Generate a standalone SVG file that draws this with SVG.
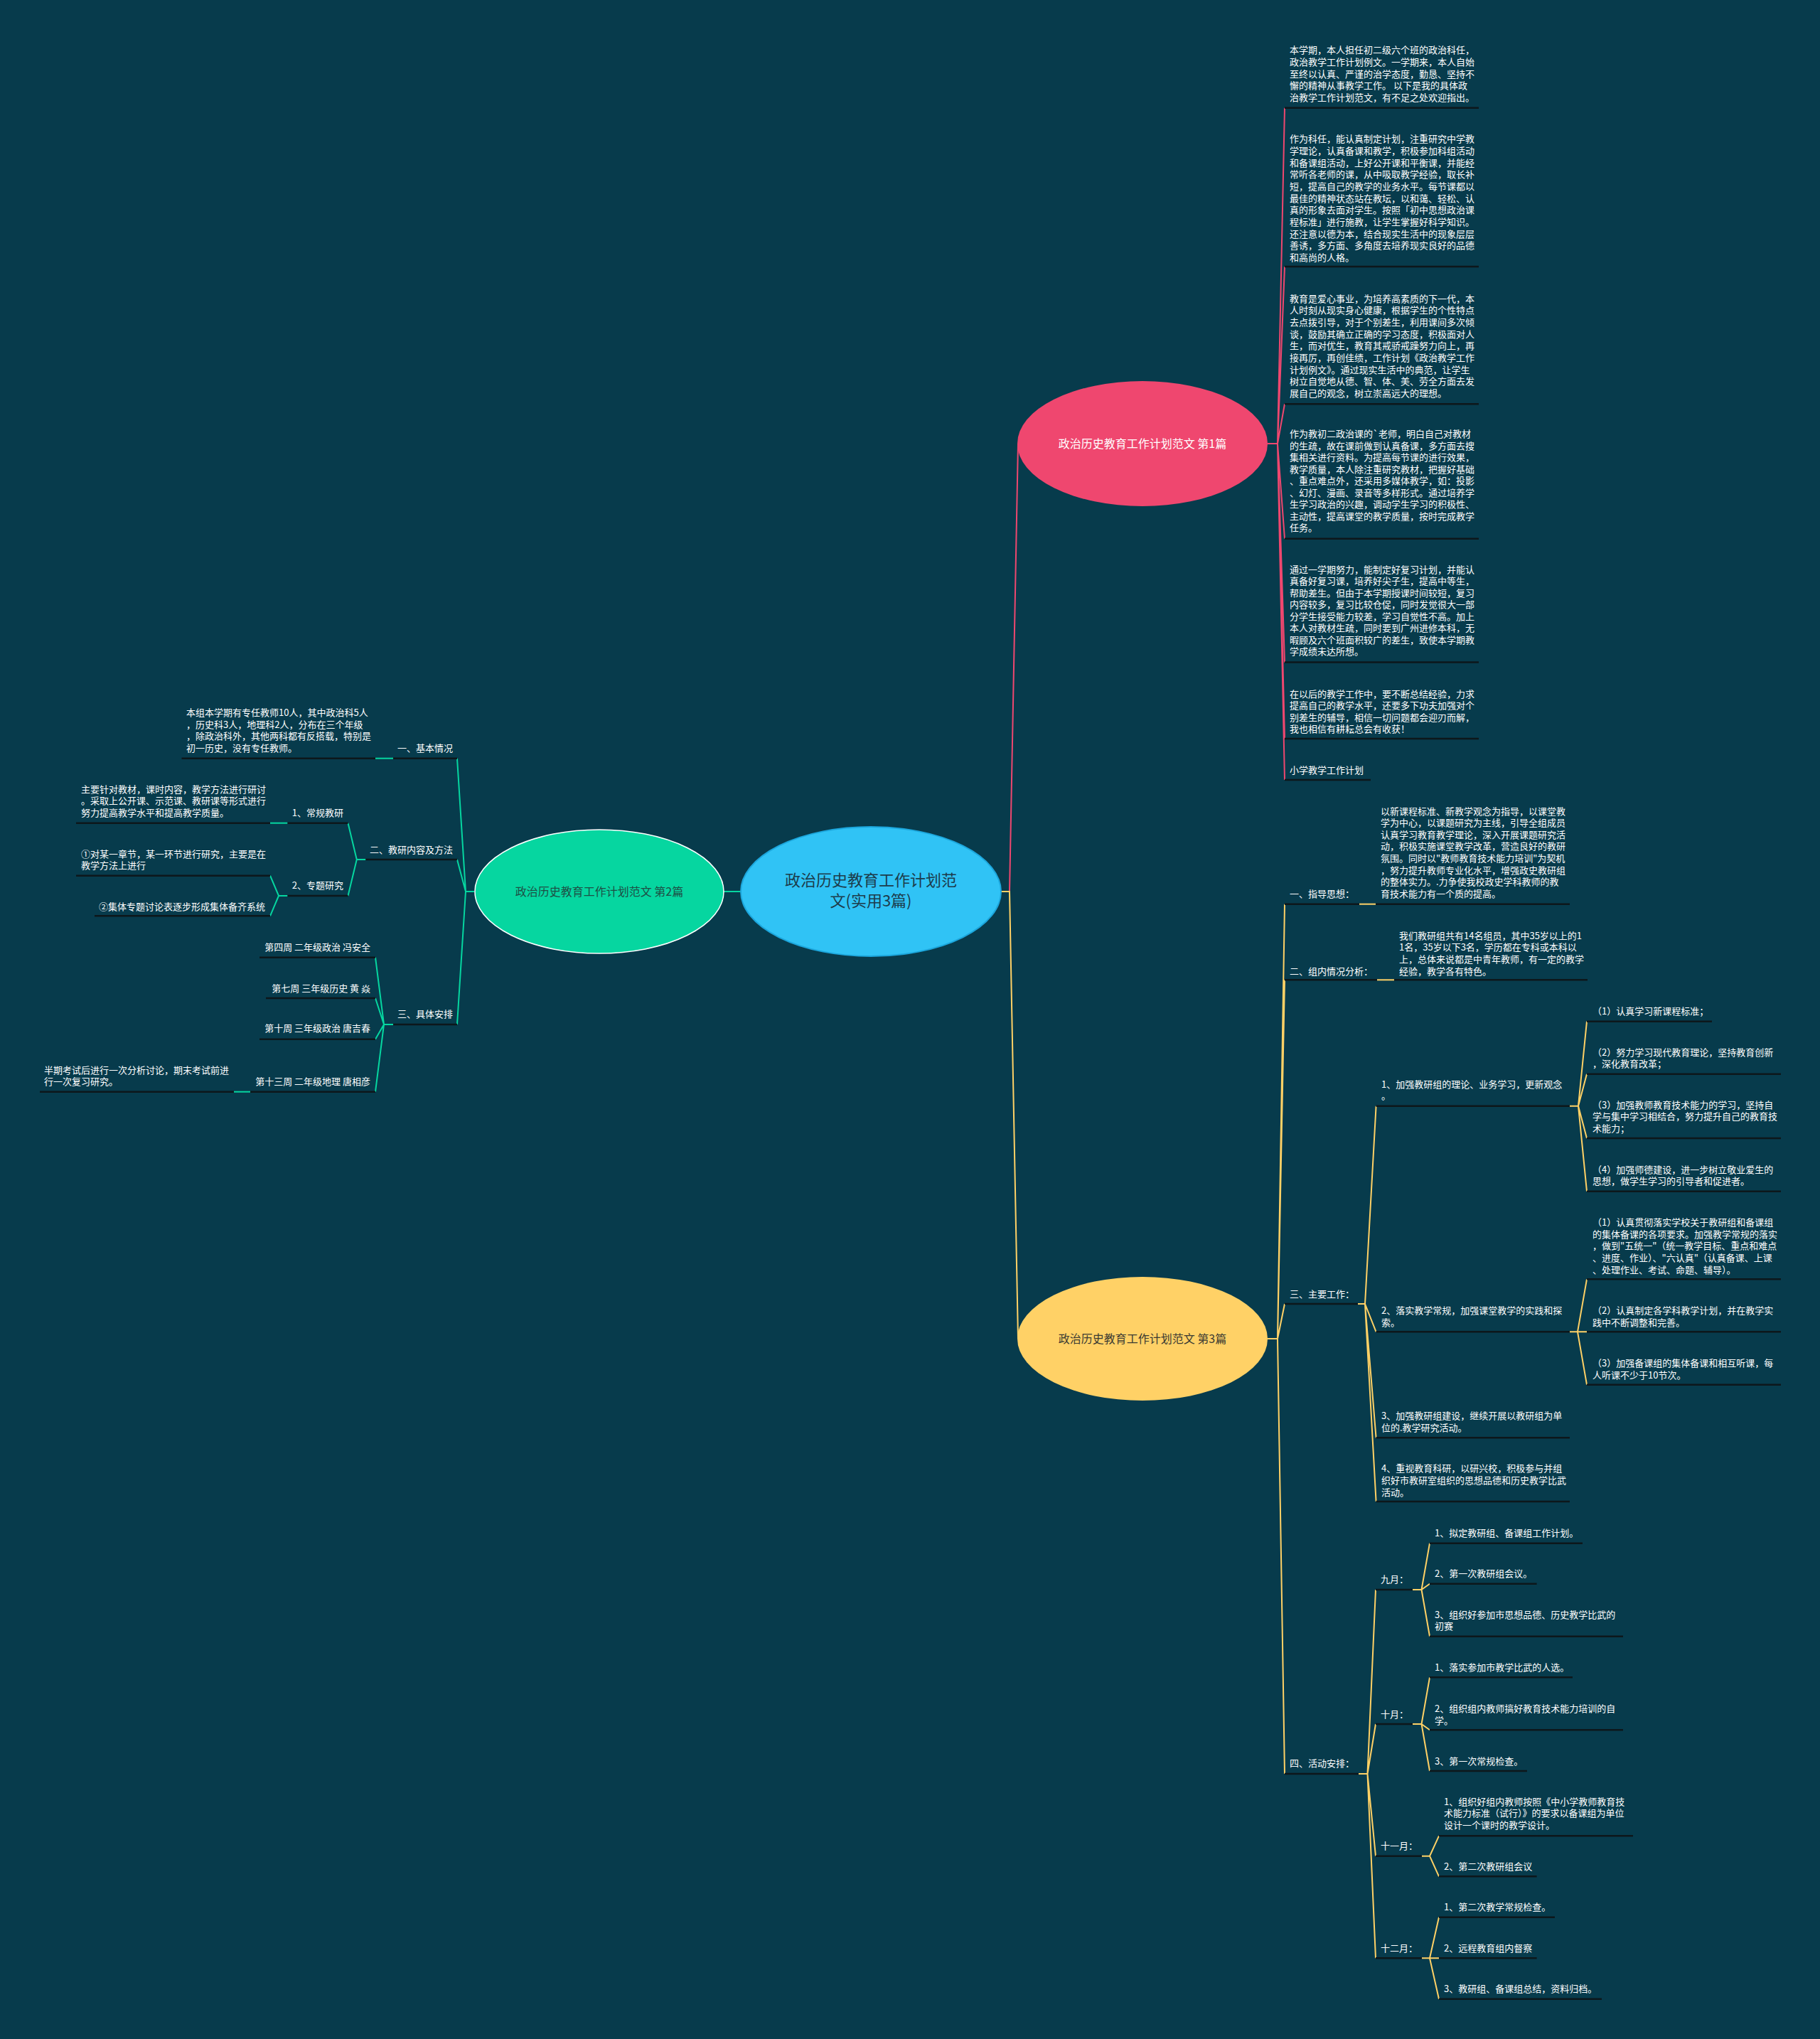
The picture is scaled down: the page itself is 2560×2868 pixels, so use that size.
<svg xmlns="http://www.w3.org/2000/svg" width="2560" height="2868" viewBox="0 0 2560 2868">
<style>
.t{font-family:"Noto Sans CJK SC","Microsoft YaHei",sans-serif;font-size:13px;fill:#ffffff}
.r{text-anchor:end}
.u{stroke:#0d171b;stroke-width:2.5;fill:none}
.cp{stroke:#ef476f;stroke-width:2;fill:none}
.cy{stroke:#ffd166;stroke-width:2;fill:none}
.cg{stroke:#06d6a0;stroke-width:2;fill:none}
.nt{font-family:"Noto Sans CJK SC","Microsoft YaHei",sans-serif;font-size:16px;text-anchor:middle}
</style>
<rect width="2560" height="2868" fill="#073b4c"/>

<g id="connectors">
<path class="cg" d="M1042,1254 L1018,1254"/>
<path class="cp" d="M1408,1254 L1420,1254 L1432,624"/>
<path class="cy" d="M1408,1254 L1420,1254 L1432,1883"/>

<path class="cp" d="M1783,624 L1797,624 L1807,151.7 M1797,624 L1807,375 M1797,624 L1807,568.3 M1797,624 L1807,757.7 M1797,624 L1807,931.6 M1797,624 L1807,1039 M1797,624 L1807,1097"/>

<path class="cy" d="M1783,1883 L1797,1883 L1807,1271.7 M1797,1883 L1807,1378.3 M1797,1883 L1807,1834 M1797,1883 L1807,2495"/>
<path class="cy" d="M1912,1271.7 L1935,1271.7"/>
<path class="cy" d="M1937,1378.3 L1961,1378.3"/>
<path class="cy" d="M1910,1834 L1920,1834 L1935.6,1555.7 M1920,1834 L1935.6,1873.3 M1920,1834 L1935.6,2022.3 M1920,1834 L1935.6,2112"/>
<path class="cy" d="M2208,1555.7 L2220,1555.7 L2232,1436.7 M2220,1555.7 L2232,1510.7 M2220,1555.7 L2232,1601 M2220,1555.7 L2232,1675.7"/>
<path class="cy" d="M2208,1873.3 L2219,1873.3 L2232,1799.3 M2219,1873.3 L2232,1873.3 M2219,1873.3 L2232,1947.7"/>
<path class="cy" d="M1911,2495 L1923.5,2495 L1935,2236 M1923.5,2495 L1935,2425 M1923.5,2495 L1935,2610.7 M1923.5,2495 L1935,2754.3"/>
<path class="cy" d="M1987,2236 L1999.5,2236 L2011,2170.7 M1999.5,2236 L2011,2227.7 M1999.5,2236 L2011,2301.7"/>
<path class="cy" d="M1987,2425 L1999.5,2425 L2011,2359.3 M1999.5,2425 L2011,2433.3 M1999.5,2425 L2011,2491"/>
<path class="cy" d="M2000,2610.7 L2011,2610.7 L2024,2582.3 M2011,2610.7 L2024,2639.3"/>
<path class="cy" d="M2000,2754.3 L2011,2754.3 L2024,2696.7 M2011,2754.3 L2024,2754.3 M2011,2754.3 L2024,2811.7"/>

<path class="cg" d="M667,1254 L655,1254 L643,1066.7 M655,1254 L643,1209 M655,1254 L643,1441"/>
<path class="cg" d="M553,1066.7 L528,1066.7"/>
<path class="cg" d="M514.4,1209 L501.8,1209 L489.5,1157.7 M501.8,1209 L489.5,1260"/>
<path class="cg" d="M404.5,1157.7 L380,1157.7"/>
<path class="cg" d="M404.5,1260 L392,1260 L380,1231.7 M392,1260 L380,1288.3"/>
<path class="cg" d="M553,1441 L540,1441 L528,1346.7 M540,1441 L528,1404 M540,1441 L528,1461.7 M540,1441 L528,1535.7"/>
<path class="cg" d="M352,1535.7 L329,1535.7"/>
</g>

<g id="root">
<ellipse cx="1225" cy="1254" rx="183" ry="91" fill="#30c3f5" stroke="#1ca6dc" stroke-width="2"/>
<text class="nt" style="font-size:22px" fill="#1d3c4b"><tspan x="1225" y="1246">政治历史教育工作计划范</tspan><tspan x="1225" y="1275">文(实用3篇)</tspan></text>
</g>

<g id="node1">
<ellipse cx="1607" cy="624" rx="176" ry="88" fill="#ef476f"/>
<text class="nt" x="1607" y="630" fill="#ffffff">政治历史教育工作计划范文 第1篇</text>
</g>

<g id="node2">
<ellipse cx="843" cy="1254" rx="175" ry="87" fill="#06d6a0" stroke="#ffffff" stroke-width="1.5"/>
<text class="nt" x="843" y="1260" fill="#1e4f45">政治历史教育工作计划范文 第2篇</text>
</g>

<g id="node3">
<ellipse cx="1607" cy="1883" rx="176" ry="87" fill="#ffd166"/>
<text class="nt" x="1607" y="1889" fill="#3a3a32">政治历史教育工作计划范文 第3篇</text>
</g>

<g id="n1c1">
<path class="u" d="M1807,151.7 H2080"/>
<text class="t"><tspan x="1814" y="75.2">本学期，本人担任初二级六个班的政治科任，</tspan><tspan x="1814" y="91.9">政治教学工作计划例文。一学期来，本人自始</tspan><tspan x="1814" y="108.5">至终以认真、严谨的治学态度，勤恳、坚持不</tspan><tspan x="1814" y="125.2">懈的精神从事教学工作。 以下是我的具体政</tspan><tspan x="1814" y="141.9">治教学工作计划范文，有不足之处欢迎指出。</tspan></text>
</g>
<g id="n1c2">
<path class="u" d="M1807,375 H2080"/>
<text class="t"><tspan x="1814" y="200.2">作为科任，能认真制定计划，注重研究中学教</tspan><tspan x="1814" y="216.9">学理论，认真备课和教学，积极参加科组活动</tspan><tspan x="1814" y="233.5">和备课组活动，上好公开课和平衡课，并能经</tspan><tspan x="1814" y="250.2">常听各老师的课，从中吸取教学经验，取长补</tspan><tspan x="1814" y="266.9">短，提高自己的教学的业务水平。每节课都以</tspan><tspan x="1814" y="283.5">最佳的精神状态站在教坛，以和蔼、轻松、认</tspan><tspan x="1814" y="300.2">真的形象去面对学生。按照「初中思想政治课</tspan><tspan x="1814" y="316.9">程标准」进行施教，让学生掌握好科学知识。</tspan><tspan x="1814" y="333.5">还注意以德为本，结合现实生活中的现象层层</tspan><tspan x="1814" y="350.2">善诱，多方面、多角度去培养现实良好的品德</tspan><tspan x="1814" y="366.9">和高尚的人格。</tspan></text>
</g>
<g id="n1c3">
<path class="u" d="M1807,568.3 H2080"/>
<text class="t"><tspan x="1814" y="424.5">教育是爱心事业，为培养高素质的下一代，本</tspan><tspan x="1814" y="441.2">人时刻从现实身心健康，根据学生的个性特点</tspan><tspan x="1814" y="457.8">去点拨引导，对于个别差生，利用课间多次倾</tspan><tspan x="1814" y="474.5">谈，鼓励其确立正确的学习态度，积极面对人</tspan><tspan x="1814" y="491.2">生，而对优生，教育其戒骄戒躁努力向上，再</tspan><tspan x="1814" y="507.8">接再厉，再创佳绩，工作计划《政治教学工作</tspan><tspan x="1814" y="524.5">计划例文》。通过现实生活中的典范，让学生</tspan><tspan x="1814" y="541.2">树立自觉地从德、智、体、美、劳全方面去发</tspan><tspan x="1814" y="557.8">展自己的观念，树立崇高远大的理想。</tspan></text>
</g>
<g id="n1c4">
<path class="u" d="M1807,757.7 H2080"/>
<text class="t"><tspan x="1814" y="615.1">作为教初二政治课的`老师，明白自己对教材</tspan><tspan x="1814" y="631.6">的生疏，故在课前做到认真备课，多方面去搜</tspan><tspan x="1814" y="648.1">集相关进行资料。为提高每节课的进行效果，</tspan><tspan x="1814" y="664.6">教学质量，本人除注重研究教材，把握好基础</tspan><tspan x="1814" y="681.1">、重点难点外，还采用多媒体教学，如：投影</tspan><tspan x="1814" y="697.6">、幻灯、漫画、录音等多样形式。通过培养学</tspan><tspan x="1814" y="714.1">生学习政治的兴趣，调动学生学习的积极性、</tspan><tspan x="1814" y="730.6">主动性，提高课堂的教学质量，按时完成教学</tspan><tspan x="1814" y="747.1">任务。</tspan></text>
</g>
<g id="n1c5">
<path class="u" d="M1807,931.6 H2080"/>
<text class="t"><tspan x="1814" y="805.9">通过一学期努力，能制定好复习计划，并能认</tspan><tspan x="1814" y="822.4">真备好复习课，培养好尖子生，提高中等生，</tspan><tspan x="1814" y="838.9">帮助差生。但由于本学期授课时间较短，复习</tspan><tspan x="1814" y="855.4">内容较多，复习比较仓促，同时发觉很大一部</tspan><tspan x="1814" y="871.9">分学生接受能力较差，学习自觉性不高。加上</tspan><tspan x="1814" y="888.4">本人对教材生疏，同时要到广州进修本科，无</tspan><tspan x="1814" y="904.9">暇顾及六个班面积较广的差生，致使本学期教</tspan><tspan x="1814" y="921.4">学成绩未达所想。</tspan></text>
</g>
<g id="n1c6">
<path class="u" d="M1807,1039 H2080"/>
<text class="t"><tspan x="1814" y="980.8">在以后的教学工作中，要不断总结经验，力求</tspan><tspan x="1814" y="997.3">提高自己的教学水平，还要多下功夫加强对个</tspan><tspan x="1814" y="1013.8">别差生的辅导，相信一切问题都会迎刃而解，</tspan><tspan x="1814" y="1030.3">我也相信有耕耘总会有收获！</tspan></text>
</g>
<g id="n1c7">
<path class="u" d="M1807,1097 H1928"/>
<text class="t" x="1814" y="1087.5">小学教学工作计划</text>
</g>

<g id="n3-zhidao">
<path class="u" d="M1807,1271.7 H1912"/>
<text class="t" x="1814" y="1261.8">一、指导思想：</text>
</g>
<g id="n3-zhidao-text">
<path class="u" d="M1935,1271.7 H2208"/>
<text class="t"><tspan x="1942" y="1145.5">以新课程标准、新教学观念为指导，以课堂教</tspan><tspan x="1942" y="1162.1">学为中心，以课题研究为主线，引导全组成员</tspan><tspan x="1942" y="1178.7">认真学习教育教学理论，深入开展课题研究活</tspan><tspan x="1942" y="1195.3">动，积极实施课堂教学改革，营造良好的教研</tspan><tspan x="1942" y="1211.9">氛围。同时以&quot;教师教育技术能力培训&quot;为契机</tspan><tspan x="1942" y="1228.5">，努力提升教师专业化水平，增强政史教研组</tspan><tspan x="1942" y="1245.1">的整体实力。.力争使我校政史学科教师的教</tspan><tspan x="1942" y="1261.7">育技术能力有一个质的提高。</tspan></text>
</g>
<g id="n3-zunei">
<path class="u" d="M1807,1378.3 H1937"/>
<text class="t" x="1814" y="1370.5">二、组内情况分析：</text>
</g>
<g id="n3-zunei-text">
<path class="u" d="M1961,1378.3 H2233"/>
<text class="t"><tspan x="1968" y="1320.7">我们教研组共有14名组员，其中35岁以上的1</tspan><tspan x="1968" y="1337.3">1名，35岁以下3名，学历都在专科或本科以</tspan><tspan x="1968" y="1353.9">上，总体来说都是中青年教师，有一定的教学</tspan><tspan x="1968" y="1370.5">经验，教学各有特色。</tspan></text>
</g>

<g id="n3-zhuyao">
<path class="u" d="M1807,1834 H1910"/>
<text class="t" x="1814" y="1824.5">三、主要工作：</text>
</g>
<g id="zy-1">
<path class="u" d="M1935.6,1555.7 H2208"/>
<text class="t"><tspan x="1943" y="1529.5">1、加强教研组的理论、业务学习，更新观念</tspan><tspan x="1943" y="1546.1">。</tspan></text>
</g>
<g id="zy-1-1">
<path class="u" d="M2232,1436.7 H2408"/>
<text class="t" x="2240" y="1426.5">（1）认真学习新课程标准；</text>
</g>
<g id="zy-1-2">
<path class="u" d="M2232,1510.7 H2505"/>
<text class="t"><tspan x="2240" y="1484.5">（2）努力学习现代教育理论，坚持教育创新</tspan><tspan x="2240" y="1501.2">，深化教育改革；</tspan></text>
</g>
<g id="zy-1-3">
<path class="u" d="M2232,1601 H2505"/>
<text class="t"><tspan x="2240" y="1558.5">（3）加强教师教育技术能力的学习，坚持自</tspan><tspan x="2240" y="1575.2">学与集中学习相结合，努力提升自己的教育技</tspan><tspan x="2240" y="1591.8">术能力；</tspan></text>
</g>
<g id="zy-1-4">
<path class="u" d="M2232,1675.7 H2505"/>
<text class="t"><tspan x="2240" y="1649.5">（4）加强师德建设，进一步树立敬业爱生的</tspan><tspan x="2240" y="1666.2">思想，做学生学习的引导者和促进者。</tspan></text>
</g>
<g id="zy-2">
<path class="u" d="M1935.6,1873.3 H2208"/>
<text class="t"><tspan x="1943" y="1847.8">2、落实教学常规，加强课堂教学的实践和探</tspan><tspan x="1943" y="1864.5">索。</tspan></text>
</g>
<g id="zy-2-1">
<path class="u" d="M2232,1799.3 H2505"/>
<text class="t"><tspan x="2240" y="1723.8">（1）认真贯彻落实学校关于教研组和备课组</tspan><tspan x="2240" y="1740.5">的集体备课的各项要求。加强教学常规的落实</tspan><tspan x="2240" y="1757.2">，做到&quot;五统一&quot;（统一教学目标、重点和难点</tspan><tspan x="2240" y="1773.8">、进度、作业）、&quot;六认真&quot;（认真备课、上课</tspan><tspan x="2240" y="1790.5">、处理作业、考试、命题、辅导）。</tspan></text>
</g>
<g id="zy-2-2">
<path class="u" d="M2232,1873.3 H2505"/>
<text class="t"><tspan x="2240" y="1847.8">（2）认真制定各学科教学计划，并在教学实</tspan><tspan x="2240" y="1864.5">践中不断调整和完善。</tspan></text>
</g>
<g id="zy-2-3">
<path class="u" d="M2232,1947.7 H2505"/>
<text class="t"><tspan x="2240" y="1921.8">（3）加强备课组的集体备课和相互听课，每</tspan><tspan x="2240" y="1938.5">人听课不少于10节次。</tspan></text>
</g>
<g id="zy-3">
<path class="u" d="M1935.6,2022.3 H2208"/>
<text class="t"><tspan x="1943" y="1996.2">3、加强教研组建设，继续开展以教研组为单</tspan><tspan x="1943" y="2012.8">位的.教学研究活动。</tspan></text>
</g>
<g id="zy-4">
<path class="u" d="M1935.6,2112 H2208"/>
<text class="t"><tspan x="1943" y="2070.2">4、重视教育科研，以研兴校，积极参与并组</tspan><tspan x="1943" y="2086.8">织好市教研室组织的思想品德和历史教学比武</tspan><tspan x="1943" y="2103.5">活动。</tspan></text>
</g>

<g id="n3-huodong">
<path class="u" d="M1807,2495 H1911"/>
<text class="t" x="1814" y="2485.2">四、活动安排：</text>
</g>
<g id="m9">
<path class="u" d="M1935,2236 H1987"/>
<text class="t" x="1942" y="2226.2">九月：</text>
</g>
<g id="m9-1"><path class="u" d="M2011,2170.7 H2226"/><text class="t" x="2018" y="2160.5">1、拟定教研组、备课组工作计划。</text></g>
<g id="m9-2"><path class="u" d="M2011,2227.7 H2161.6"/><text class="t" x="2018" y="2217.8">2、第一次教研组会议。</text></g>
<g id="m9-3"><path class="u" d="M2011,2301.7 H2283"/><text class="t"><tspan x="2018" y="2276.2">3、组织好参加市思想品德、历史教学比武的</tspan><tspan x="2018" y="2292.2">初赛</tspan></text></g>
<g id="m10">
<path class="u" d="M1935,2425 H1987"/>
<text class="t" x="1942" y="2415.5">十月：</text>
</g>
<g id="m10-1"><path class="u" d="M2011,2359.3 H2212"/><text class="t" x="2018" y="2350.2">1、落实参加市教学比武的人选。</text></g>
<g id="m10-2"><path class="u" d="M2011,2433.3 H2283"/><text class="t"><tspan x="2018" y="2407.8">2、组织组内教师搞好教育技术能力培训的自</tspan><tspan x="2018" y="2424.5">学。</tspan></text></g>
<g id="m10-3"><path class="u" d="M2011,2491 H2148"/><text class="t" x="2018" y="2481.8">3、第一次常规检查。</text></g>
<g id="m11">
<path class="u" d="M1935,2610.7 H2000"/>
<text class="t" x="1942" y="2601.2">十一月：</text>
</g>
<g id="m11-1"><path class="u" d="M2024,2582.3 H2297"/><text class="t"><tspan x="2031" y="2538.5">1、组织好组内教师按照《中小学教师教育技</tspan><tspan x="2031" y="2555.2">术能力标准（试行）》的要求以备课组为单位</tspan><tspan x="2031" y="2571.8">设计一个课时的教学设计。</tspan></text></g>
<g id="m11-2"><path class="u" d="M2024,2639.3 H2161.6"/><text class="t" x="2031" y="2629.5">2、第二次教研组会议</text></g>
<g id="m12">
<path class="u" d="M1935,2754.3 H2000"/>
<text class="t" x="1942" y="2744.5">十二月：</text>
</g>
<g id="m12-1"><path class="u" d="M2024,2696.7 H2187"/><text class="t" x="2031" y="2686.8">1、第二次教学常规检查。</text></g>
<g id="m12-2"><path class="u" d="M2024,2754.3 H2161.6"/><text class="t" x="2031" y="2744.5">2、远程教育组内督察</text></g>
<g id="m12-3"><path class="u" d="M2024,2811.7 H2253"/><text class="t" x="2031" y="2802.2">3、教研组、备课组总结，资料归档。</text></g>

<g id="n2-jiben">
<path class="u" d="M553,1066.7 H643"/>
<text class="t r" x="637" y="1056.8">一、基本情况</text>
</g>
<g id="n2-jiben-text">
<path class="u" d="M255.5,1066.7 H528"/>
<text class="t"><tspan x="262" y="1006.8">本组本学期有专任教师10人，其中政治科5人</tspan><tspan x="262" y="1023.5">，历史科3人，地理科2人，分布在三个年级</tspan><tspan x="262" y="1040.2">，除政治科外，其他两科都有反搭载，特别是</tspan><tspan x="262" y="1056.8">初一历史，没有专任教师。</tspan></text>
</g>
<g id="n2-jiaoyan">
<path class="u" d="M514.4,1209 H643"/>
<text class="t r" x="637" y="1199.5">二、教研内容及方法</text>
</g>
<g id="n2-changgui">
<path class="u" d="M404.5,1157.7 H489.5"/>
<text class="t r" x="483" y="1147.8">1、常规教研</text>
</g>
<g id="n2-changgui-text">
<path class="u" d="M107,1157.7 H380"/>
<text class="t"><tspan x="114" y="1114.5">主要针对教材，课时内容，教学方法进行研讨</tspan><tspan x="114" y="1131.2">。采取上公开课、示范课、教研课等形式进行</tspan><tspan x="114" y="1147.8">努力提高教学水平和提高教学质量。</tspan></text>
</g>
<g id="n2-zhuanti">
<path class="u" d="M404.5,1260 H489.5"/>
<text class="t r" x="483" y="1250.2">2、专题研究</text>
</g>
<g id="n2-zhuanti-1">
<path class="u" d="M107,1231.7 H380"/>
<text class="t"><tspan x="114" y="1205.5">①对某一章节，某一环节进行研究，主要是在</tspan><tspan x="114" y="1222.2">教学方法上进行</tspan></text>
</g>
<g id="n2-zhuanti-2">
<path class="u" d="M133,1288.3 H380"/>
<text class="t r" x="373" y="1279.5">②集体专题讨论表逐步形成集体备齐系统</text>
</g>
<g id="n2-anpai">
<path class="u" d="M553,1441 H643"/>
<text class="t r" x="637" y="1431.2">三、具体安排</text>
</g>
<g id="ap-1"><path class="u" d="M365,1346.7 H528"/><text class="t r" x="521" y="1336.8">第四周 二年级政治 冯安全</text></g>
<g id="ap-2"><path class="u" d="M374,1404 H528"/><text class="t r" x="521" y="1394.5">第七周 三年级历史 黄 焱</text></g>
<g id="ap-3"><path class="u" d="M365,1461.7 H528"/><text class="t r" x="521" y="1451.2">第十周 三年级政治 唐吉春</text></g>
<g id="ap-4"><path class="u" d="M352,1535.7 H528"/><text class="t r" x="521" y="1526.2">第十三周 二年级地理 唐相彦</text></g>
<g id="ap-4-text">
<path class="u" d="M56,1535.7 H329"/>
<text class="t"><tspan x="62" y="1509.5">半期考试后进行一次分析讨论，期末考试前进</tspan><tspan x="62" y="1526.2">行一次复习研究。</tspan></text>
</g>
</svg>
